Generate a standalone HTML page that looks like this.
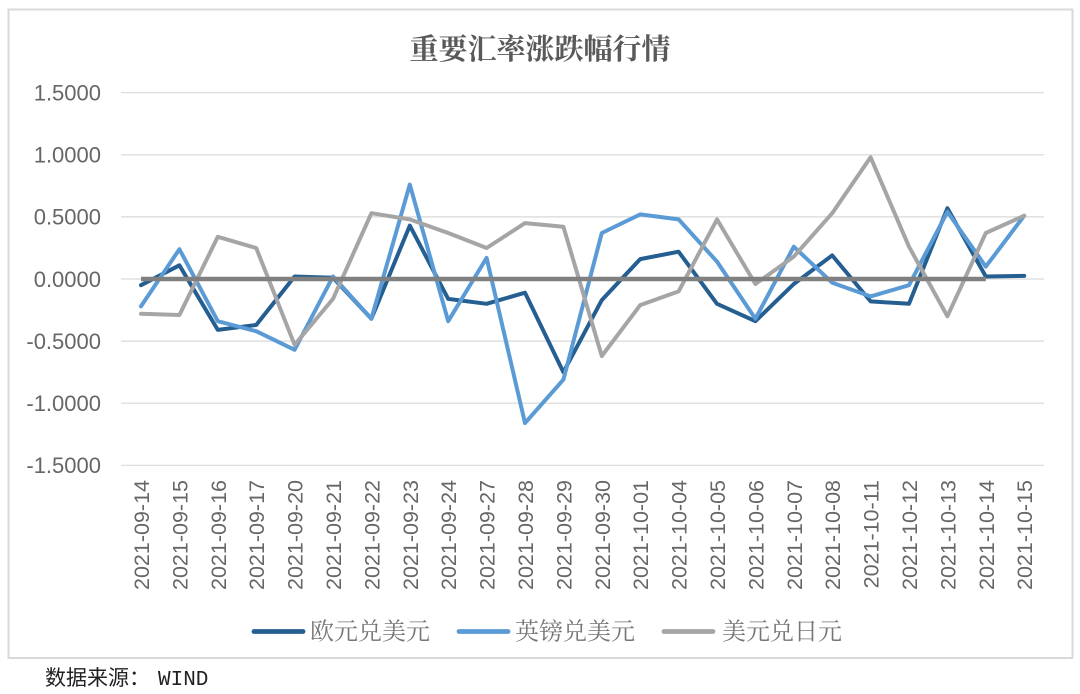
<!DOCTYPE html>
<html>
<head>
<meta charset="utf-8">
<style>
  html, body { margin: 0; padding: 0; background: #ffffff; }
  svg { display: block; }
</style>
</head>
<body>
<svg width="1080" height="694" viewBox="0 0 1080 694" xmlns="http://www.w3.org/2000/svg">
  <rect x="0" y="0" width="1080" height="694" fill="#ffffff"/>
  <!-- outer border -->
  <rect x="8.5" y="9.5" width="1064" height="648.5" fill="none" stroke="#d9d9d9" stroke-width="2"/>

  <!-- title -->
  <text x="540" y="59" text-anchor="middle" font-family="'Noto Serif CJK SC','Liberation Serif',serif" font-size="29" font-weight="bold" fill="#595959">重要汇率涨跌幅行情</text>

  <!-- gridlines -->
  <g stroke="#d9d9d9" stroke-width="1.2">
    <line x1="121" y1="92.7" x2="1044" y2="92.7"/>
    <line x1="121" y1="154.8" x2="1044" y2="154.8"/>
    <line x1="121" y1="216.9" x2="1044" y2="216.9"/>
    <line x1="121" y1="279" x2="1044" y2="279"/>
    <line x1="121" y1="341.1" x2="1044" y2="341.1"/>
    <line x1="121" y1="403.2" x2="1044" y2="403.2"/>
    <line x1="121" y1="465.3" x2="1044" y2="465.3"/>
  </g>

  <!-- y labels -->
  <g font-family="'Liberation Sans',sans-serif" font-size="22" fill="#666666" text-anchor="end">
    <text x="101" y="100.5">1.5000</text>
    <text x="101" y="162.6">1.0000</text>
    <text x="101" y="224.7">0.5000</text>
    <text x="101" y="286.8">0.0000</text>
    <text x="101" y="348.9">-0.5000</text>
    <text x="101" y="411">-1.0000</text>
    <text x="101" y="473.1">-1.5000</text>
  </g>

  <!-- x labels -->
  <g font-family="'Liberation Sans',sans-serif" font-size="21.5" fill="#666666" text-anchor="end">
    <text transform="translate(149,480) rotate(-90)">2021-09-14</text>
    <text transform="translate(187.4,480) rotate(-90)">2021-09-15</text>
    <text transform="translate(225.8,480) rotate(-90)">2021-09-16</text>
    <text transform="translate(264.2,480) rotate(-90)">2021-09-17</text>
    <text transform="translate(302.6,480) rotate(-90)">2021-09-20</text>
    <text transform="translate(341,480) rotate(-90)">2021-09-21</text>
    <text transform="translate(379.4,480) rotate(-90)">2021-09-22</text>
    <text transform="translate(417.8,480) rotate(-90)">2021-09-23</text>
    <text transform="translate(456.2,480) rotate(-90)">2021-09-24</text>
    <text transform="translate(494.6,480) rotate(-90)">2021-09-27</text>
    <text transform="translate(533,480) rotate(-90)">2021-09-28</text>
    <text transform="translate(571.4,480) rotate(-90)">2021-09-29</text>
    <text transform="translate(609.8,480) rotate(-90)">2021-09-30</text>
    <text transform="translate(648.2,480) rotate(-90)">2021-10-01</text>
    <text transform="translate(686.6,480) rotate(-90)">2021-10-04</text>
    <text transform="translate(725,480) rotate(-90)">2021-10-05</text>
    <text transform="translate(763.4,480) rotate(-90)">2021-10-06</text>
    <text transform="translate(801.8,480) rotate(-90)">2021-10-07</text>
    <text transform="translate(840.2,480) rotate(-90)">2021-10-08</text>
    <text transform="translate(878.6,480) rotate(-90)">2021-10-11</text>
    <text transform="translate(917,480) rotate(-90)">2021-10-12</text>
    <text transform="translate(955.4,480) rotate(-90)">2021-10-13</text>
    <text transform="translate(993.8,480) rotate(-90)">2021-10-14</text>
    <text transform="translate(1032.2,480) rotate(-90)">2021-10-15</text>
  </g>

  <!-- series -->
  <g fill="none" stroke-width="4" stroke-linejoin="round" stroke-linecap="round">
    <!-- 欧元兑美元 -->
    <polyline stroke="#255e91" points="141,285.2 179.4,265.3 217.8,329.9 256.2,325 294.6,276.5 333,277.8 371.4,318.7 409.8,225.6 448.2,298.9 486.6,303.8 525,292.7 563.4,372.2 601.8,300.1 640.2,259.1 678.6,251.7 717,303.8 755.4,321.2 793.8,284 832.2,255.4 870.6,301.4 909,303.8 947.4,208.2 985.8,276.5 1024.2,275.9"/>
    <!-- 英镑兑美元 -->
    <polyline stroke="#5b9bd5" points="141,306.3 179.4,249.2 217.8,321.2 256.2,331.2 294.6,349.8 333,276.5 371.4,318.7 409.8,184.6 448.2,321.2 486.6,257.9 525,423.1 563.4,379.6 601.8,233 640.2,214.4 678.6,219.4 717,261.6 755.4,318.7 793.8,246.7 832.2,282.7 870.6,296.4 909,285.2 947.4,211.9 985.8,266.6 1024.2,215.7"/>
    <!-- 美元兑日元 -->
    <polyline stroke="#a5a5a5" points="141,313.8 179.4,315 217.8,236.8 256.2,248 294.6,344.8 333,298.9 371.4,213.2 409.8,219.4 448.2,233 486.6,248 525,223.1 563.4,226.8 601.8,356 640.2,305.1 678.6,291.4 717,219.4 755.4,284 793.8,256.6 832.2,213.2 870.6,157.3 909,246.7 947.4,316.3 985.8,233 1024.2,215.7"/>
    <!-- zero line -->
    <line x1="141" y1="279" x2="985.8" y2="279" stroke="#808080" stroke-width="4.5" stroke-linecap="butt"/>
  </g>

  <!-- legend -->
  <g stroke-width="4.8" stroke-linecap="round">
    <line x1="254" y1="631.5" x2="303" y2="631.5" stroke="#255e91"/>
    <line x1="459" y1="631.5" x2="508" y2="631.5" stroke="#5b9bd5"/>
    <line x1="664" y1="631.5" x2="713" y2="631.5" stroke="#a5a5a5"/>
  </g>
  <g font-family="'Noto Serif CJK SC','Liberation Serif',serif" font-size="24" fill="#757575">
    <text x="310" y="639.5">欧元兑美元</text>
    <text x="515" y="639.5">英镑兑美元</text>
    <text x="722" y="639.5">美元兑日元</text>
  </g>

  <!-- source -->
  <text x="45" y="685" font-family="'Liberation Mono','Noto Sans CJK SC',monospace" font-size="21" fill="#222222">数据来源：<tspan x="158">WIND</tspan></text>
</svg>
</body>
</html>
